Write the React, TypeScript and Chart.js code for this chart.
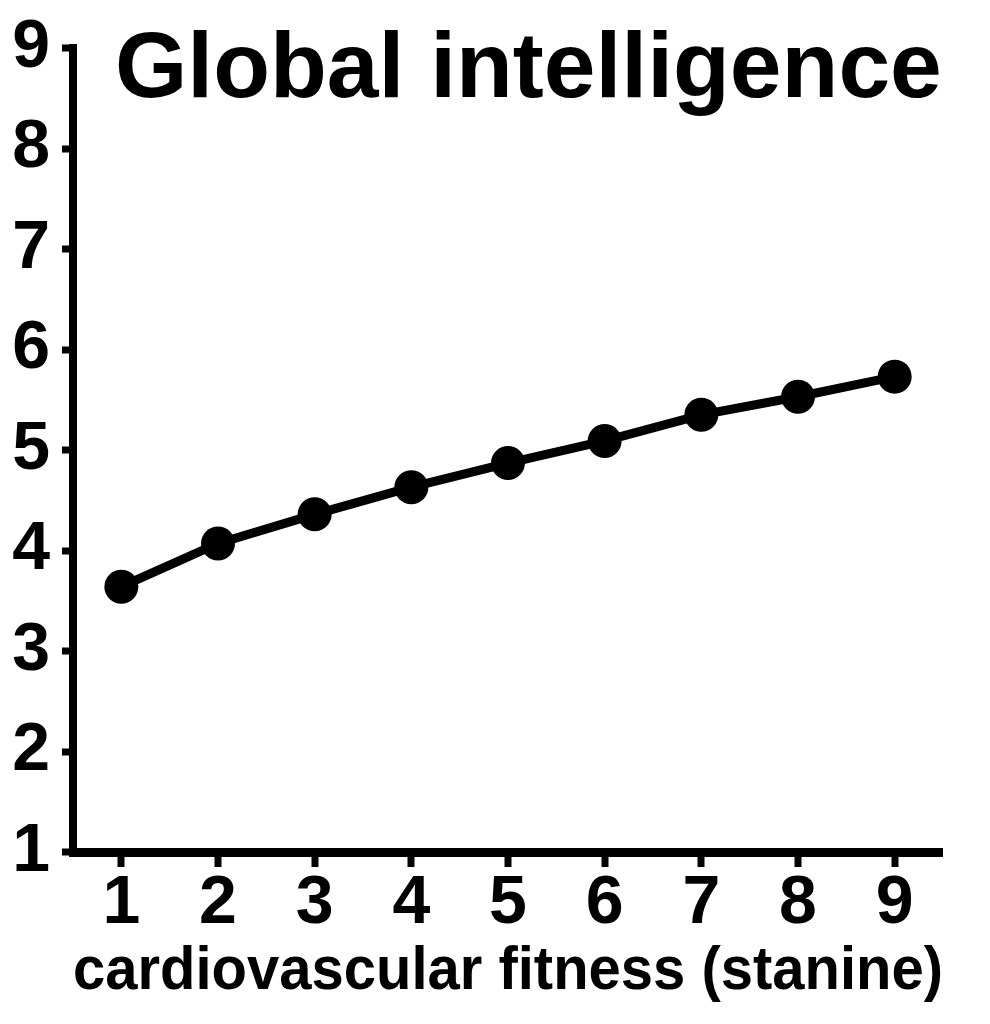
import React, { useEffect, useRef } from "react";
import { Chart, registerables } from "chart.js";

Chart.register(...registerables);

const chartTitle = "Global intelligence";
const xAxisTitle = "cardiovascular fitness (stanine)";
const fitnessStanine = [1, 2, 3, 4, 5, 6, 7, 8, 9];
const globalIntelligence = [3.64, 4.07, 4.36, 4.63, 4.87, 5.09, 5.35, 5.53, 5.73];
const yTickValues = [1, 2, 3, 4, 5, 6, 7, 8, 9];
const xTickValues = [1, 2, 3, 4, 5, 6, 7, 8, 9];

const FONT = "'Liberation Sans', Arial, Helvetica, sans-serif";

export default function App() {
  const ref = useRef<HTMLCanvasElement | null>(null);

  useEffect(() => {
    document.body.style.margin = "0";
    const canvas = ref.current;
    if (!canvas) return;

    const titlePlugin = {
      id: "insideTitle",
      afterDraw(chart: any) {
        const { ctx, chartArea } = chart;
        ctx.save();
        ctx.fillStyle = "#000";
        ctx.font = `bold 93px ${FONT}`;
        ctx.textAlign = "left";
        ctx.textBaseline = "alphabetic";
        ctx.fillText(chartTitle, chartArea.left + 42, chartArea.top + 49);
        ctx.restore();
      },
    };

    const chart = new Chart(canvas, {
      type: "line",
      data: {
        datasets: [
          {
            data: fitnessStanine.map((x, i) => ({ x, y: globalIntelligence[i] })),
            borderColor: "#000",
            backgroundColor: "#000",
            borderWidth: 9,
            pointRadius: 17,
            pointHoverRadius: 17,
            pointBackgroundColor: "#000",
            pointBorderColor: "#000",
            pointBorderWidth: 0,
            tension: 0,
            fill: false,
            clip: false as any,
          },
        ],
      },
      options: {
        responsive: false,
        animation: false,
        devicePixelRatio: 1,
        layout: { padding: { top: 48, right: 47, left: 0, bottom: 0 } },
        plugins: {
          legend: { display: false },
          tooltip: { enabled: false },
          title: { display: false },
        },
        scales: {
          x: {
            type: "linear",
            min: 0.5,
            max: 9.5,
            afterBuildTicks: (scale: any) => {
              scale.ticks = xTickValues.map((v) => ({ value: v }));
            },
            afterFit: (scale: any) => {
              scale.height = 172;
            },
            grid: {
              display: true,
              drawOnChartArea: false,
              drawTicks: true,
              tickLength: 15,
              tickWidth: 7,
              tickColor: "#000",
              lineWidth: 0,
            },
            border: { display: true, color: "#000", width: 9 },
            ticks: {
              color: "#000",
              font: { family: FONT, size: 68, weight: "bold", lineHeight: 1 },
              padding: 3,
              maxRotation: 0,
              autoSkip: false,
            },
            title: {
              display: true,
              text: xAxisTitle,
              color: "#000",
              font: { family: FONT, size: 60.5, weight: "bold", lineHeight: 1 },
              padding: { top: 0, bottom: 21 },
            },
          },
          y: {
            type: "linear",
            min: 1,
            max: 9,
            afterBuildTicks: (scale: any) => {
              scale.ticks = yTickValues.map((v) => ({ value: v }));
            },
            afterFit: (scale: any) => {
              scale.width = 73;
            },
            grid: {
              display: true,
              drawOnChartArea: false,
              drawTicks: true,
              tickLength: 11,
              tickWidth: 7,
              tickColor: "#000",
              lineWidth: 0,
            },
            border: { display: true, color: "#000", width: 8 },
            ticks: {
              color: "#000",
              font: { family: FONT, size: 68, weight: "bold", lineHeight: 1 },
              padding: 12,
              autoSkip: false,
            },
          },
        },
      },
      plugins: [titlePlugin],
    });

    return () => chart.destroy();
  }, []);

  return (
    <div style={{ width: 990, height: 1024, background: "#fff" }}>
      <canvas ref={ref} width={990} height={1024} style={{ display: "block" }} />
    </div>
  );
}
